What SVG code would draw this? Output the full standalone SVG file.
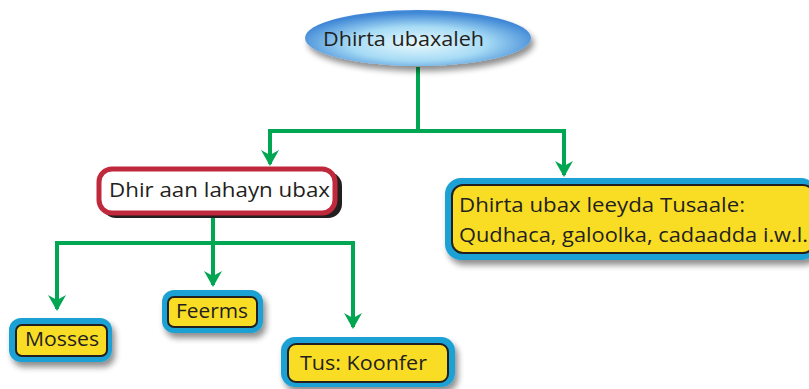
<svg xmlns="http://www.w3.org/2000/svg" width="809" height="389" viewBox="0 0 809 389">
<style>
.t{font-family:"Open Sans","Liberation Sans",sans-serif;fill:#231f20;font-size:20px}
.conn{fill:none;stroke:#00a651;stroke-width:4}
.blue{fill:#1ba1d4}
.yel{fill:#f9dd24;stroke:#231f20;stroke-width:2}
</style>
<defs>
<radialGradient id="eg" cx="0.5" cy="0.6" r="0.55">
<stop offset="0" stop-color="#eaf9fe"/>
<stop offset="0.55" stop-color="#a6dbf5"/>
<stop offset="1" stop-color="#3f87d6"/>
</radialGradient>
<filter id="sh" x="-20%" y="-20%" width="150%" height="170%">
<feGaussianBlur in="SourceAlpha" stdDeviation="3"/>
<feOffset dx="3" dy="5" result="b"/>
<feComponentTransfer><feFuncA type="linear" slope="0.45"/></feComponentTransfer>
<feMerge><feMergeNode/><feMergeNode in="SourceGraphic"/></feMerge>
</filter>
<marker id="ah" markerWidth="18" markerHeight="16" refX="9" refY="14" markerUnits="userSpaceOnUse" viewBox="0 0 18 16">
<path d="M0,0 L9,5 L18,0 L9,16 Z" fill="#00a651"/>
</marker>
</defs>
<g id="connectors">
<path class="conn" d="M418,67 V131 M268,131 H566"/>
<path class="conn" d="M270,131 V164" marker-end="url(#ah)"/>
<path class="conn" d="M564,131 V175" marker-end="url(#ah)"/>
<path class="conn" d="M213,218 V243 M55,243 H355"/>
<path class="conn" d="M57,243 V309" marker-end="url(#ah)"/>
<path class="conn" d="M213,243 V285" marker-end="url(#ah)"/>
<path class="conn" d="M353,243 V327" marker-end="url(#ah)"/>
</g>
<g id="root">
<ellipse cx="418" cy="38" rx="113" ry="28" fill="url(#eg)" filter="url(#sh)"/>
<text class="t" x="323" y="46" textLength="161" lengthAdjust="spacingAndGlyphs">Dhirta ubaxaleh</text>
</g>
<g id="n1">
<rect x="102" y="172" width="240" height="46" rx="14" fill="#231f20"/>
<rect x="99" y="169" width="236" height="44" rx="13" fill="#fff" stroke="#c0283c" stroke-width="5"/>
<text class="t" x="109" y="197" textLength="221" lengthAdjust="spacingAndGlyphs">Dhir aan lahayn ubax</text>
</g>
<g id="n2">
<rect x="445" y="178" width="372" height="82" rx="16" class="blue" filter="url(#sh)"/>
<rect x="452" y="185" width="362" height="68" rx="11" class="yel"/>
<text class="t" x="459" y="212" textLength="286" lengthAdjust="spacingAndGlyphs">Dhirta ubax leeyda Tusaale:</text>
<text class="t" x="459" y="242" textLength="349" lengthAdjust="spacingAndGlyphs">Qudhaca, galoolka, cadaadda i.w.l.</text>
</g>
<g id="n3">
<rect x="9" y="318" width="103" height="44" rx="12" class="blue" filter="url(#sh)"/>
<rect x="16" y="325" width="91" height="31" rx="6" class="yel"/>
<text class="t" x="25" y="346" textLength="74" lengthAdjust="spacingAndGlyphs">Mosses</text>
</g>
<g id="n4">
<rect x="162" y="290" width="101" height="43" rx="12" class="blue" filter="url(#sh)"/>
<rect x="168" y="297" width="89" height="30" rx="6" class="yel"/>
<text class="t" x="176" y="318" textLength="72" lengthAdjust="spacingAndGlyphs">Feerms</text>
</g>
<g id="n5">
<rect x="281" y="337" width="174" height="50" rx="14" class="blue" filter="url(#sh)"/>
<rect x="288" y="344" width="160" height="38" rx="8" class="yel"/>
<text class="t" x="300" y="370" textLength="127" lengthAdjust="spacingAndGlyphs">Tus: Koonfer</text>
</g>
</svg>
